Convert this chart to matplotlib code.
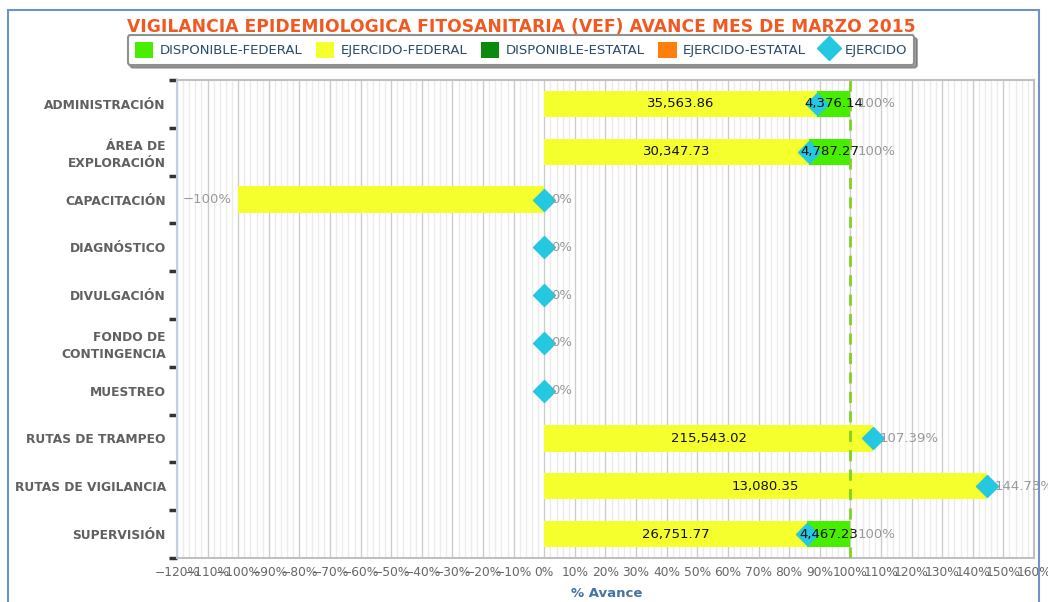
import matplotlib
matplotlib.use("Agg")
import matplotlib.pyplot as plt
import numpy as np
from matplotlib.patches import Patch, Rectangle
from matplotlib.lines import Line2D
from matplotlib.ticker import MultipleLocator

categories = [
    "ADMINISTRACIÓN",
    "ÁREA DE\nEXPLORACIÓN",
    "CAPACITACIÓN",
    "DIAGNÓSTICO",
    "DIVULGACIÓN",
    "FONDO DE\nCONTINGENCIA",
    "MUESTREO",
    "RUTAS DE TRAMPEO",
    "RUTAS DE VIGILANCIA",
    "SUPERVISIÓN",
]

# % of avance per series (stacked)
ejercido_federal_pct = [89.04, 86.37, -100, 0, 0, 0, 0, 107.39, 144.73, 85.69]
disponible_federal_pct = [10.96, 13.63, 0, 0, 0, 0, 0, 0, 0, 14.31]
ejercido_pct = [89.04, 86.37, 0, 0, 0, 0, 0, 107.39, 144.73, 85.69]

# amounts shown inside the bars
ejercido_federal_amt = [35563.86, 30347.73, None, None, None, None, None,
                        215543.02, 13080.35, 26751.77]
disponible_federal_amt = [4376.14, 4787.27, None, None, None, None, None,
                          None, None, 4467.23]

c_disp_fed = "#47ee00"
c_ejer_fed = "#f5ff2e"
c_disp_est = "#0b8a0b"
c_ejer_est = "#ff7f0e"
c_ejercido = "#24c8e0"


def pct_text(v):
    s = f"{v:.2f}".rstrip("0").rstrip(".")
    return s.replace("-", "\u2212") + "%"


fig = plt.figure(figsize=(10.48, 6.02), dpi=100)
ax = fig.add_axes([0.1689, 0.0731, 0.8177, 0.794])

y = np.arange(len(categories))
h = 0.55

ax.barh(y, ejercido_federal_pct, height=h, color=c_ejer_fed, zorder=2)
ax.barh(y, disponible_federal_pct, left=ejercido_federal_pct, height=h,
        color=c_disp_fed, zorder=2)

ax.axvline(100, color="#7ed321", ls=(0, (4, 3)), lw=2, zorder=3)

ax.plot(ejercido_pct, y, ls="none", marker="D", ms=11, color=c_ejercido,
        zorder=4)

for i in range(len(categories)):
    ef = ejercido_federal_pct[i]
    df = disponible_federal_pct[i]
    if ejercido_federal_amt[i] is not None:
        ax.text(ef / 2, i, f"{ejercido_federal_amt[i]:,.2f}", ha="center",
                va="center", fontsize=9.5, color="#111111", zorder=5)
    if disponible_federal_amt[i] is not None:
        ax.text(ef + df / 2, i, f"{disponible_federal_amt[i]:,.2f}",
                ha="center", va="center", fontsize=9.5, color="#111111",
                zorder=5)
    pos_total = max(ef, 0) + df
    ax.annotate(pct_text(pos_total), (pos_total, i), xytext=(5, 0),
                textcoords="offset points", ha="left", va="center",
                fontsize=9.5, color="#999999", zorder=5,
                annotation_clip=False)
    if ef < 0:
        ax.annotate(pct_text(ef), (ef, i), xytext=(-5, 0),
                    textcoords="offset points", ha="right", va="center",
                    fontsize=9.5, color="#999999", zorder=5)

ax.set_xlim(-120, 160)
ax.set_ylim(len(categories) - 0.5, -0.5)

xt = np.arange(-120, 161, 10)
ax.set_xticks(xt)
ax.set_xticklabels([pct_text(v) for v in xt], fontsize=8.8, color="#666666")
ax.xaxis.set_minor_locator(MultipleLocator(2))
ax.tick_params(axis="x", which="both", length=0, pad=6)

ax.set_yticks(y)
ax.set_yticklabels(categories, fontsize=8.8, fontweight="bold",
                   color="#606060", linespacing=1.4)
ax.set_yticks(np.arange(-0.5, len(categories)), minor=True)
ax.tick_params(axis="y", which="major", length=0, pad=8)
ax.tick_params(axis="y", which="minor", length=6, width=2.5, color="#333333")

ax.grid(axis="x", which="major", color="#cccccc", lw=1, zorder=0)
ax.grid(axis="x", which="minor", color="#ebebeb", lw=1, zorder=0)
ax.set_axisbelow(True)

for s in ["top", "right", "bottom"]:
    ax.spines[s].set_color("#c0c0c0")
    ax.spines[s].set_linewidth(1.5)
ax.spines["left"].set_color("#c0d0e0")
ax.spines["left"].set_linewidth(1.5)

fig.text(0.5785, 0.0145, "% Avance", ha="center", va="center", fontsize=9.5,
         fontweight="bold", color="#4572a7")

fig.text(0.4975, 0.955, "VIGILANCIA EPIDEMIOLOGICA FITOSANITARIA (VEF) AVANCE MES DE MARZO 2015",
         ha="center", va="center", fontsize=12.3, fontweight="bold",
         color="#f05a22")

handles = [
    Patch(facecolor=c_disp_fed, label="DISPONIBLE-FEDERAL"),
    Patch(facecolor=c_ejer_fed, label="EJERCIDO-FEDERAL"),
    Patch(facecolor=c_disp_est, label="DISPONIBLE-ESTATAL"),
    Patch(facecolor=c_ejer_est, label="EJERCIDO-ESTATAL"),
    Line2D([], [], ls="none", marker="D", ms=12, color=c_ejercido,
           label="EJERCIDO"),
]
leg = fig.legend(handles=handles, loc="center", bbox_to_anchor=(0.497, 0.917),
                 ncol=5, frameon=True, fancybox=True, shadow=True,
                 fontsize=9.5, handlelength=1.4, handleheight=1.4,
                 handletextpad=0.5, columnspacing=1.0, borderpad=0.55,
                 labelcolor="#274b6d")
leg.get_frame().set_edgecolor("#909090")
leg.get_frame().set_linewidth(1.5)

fig.patches.append(Rectangle((8 / 1048, -0.05), 1031 / 1048, 1.05 - 10 / 602,
                             transform=fig.transFigure, fill=False,
                             edgecolor="#6f93c8", lw=1.5))

fig.savefig("out.png", dpi=100)
